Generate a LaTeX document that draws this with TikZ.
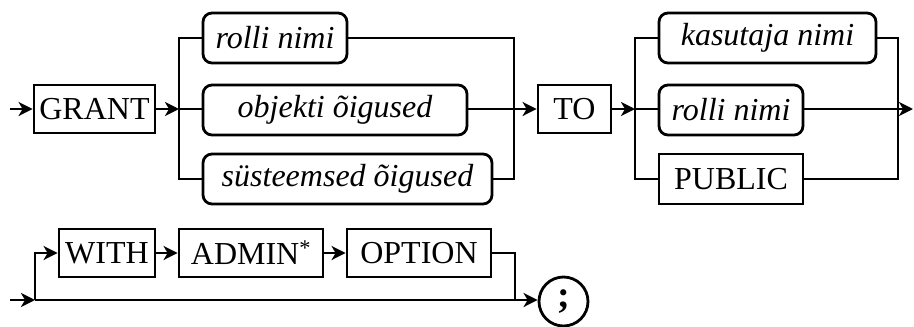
\documentclass[tikz,border=0pt]{standalone}
\usepackage{fontspec}
\setmainfont{Liberation Serif}
\usetikzlibrary{arrows.meta}
\begin{document}
\begin{tikzpicture}[x=1pt,y=-1pt,
  line width=2.8pt,
  kw/.style={draw, rectangle, inner sep=0pt, minimum height=48pt, font=\fontsize{32}{36}\selectfont},
  nt/.style={draw, rectangle, rounded corners=9pt, inner sep=0pt, minimum height=50pt, font=\fontsize{32}{36}\selectfont\itshape},
  term/.style={draw, circle, inner sep=0pt, minimum size=49pt, font=\fontsize{38}{40}\selectfont\bfseries},
  arr/.style={-{Stealth[length=14pt,width=14pt,inset=4pt]}},
  conn/.style={line join=miter}]
\useasboundingbox (0,0) rectangle (914,327);
% row 1 nodes
\node[kw, minimum width=121pt] (grant) at (94.5,109) {GRANT};
\node[nt, minimum width=144pt] (rolli1) at (275,38) {rolli nimi};
\node[nt, minimum width=264pt] (obj) at (335,110) {objekti õigused};
\node[nt, minimum width=289pt] (sys) at (347.5,179) {süsteemsed õigused};
\node[kw, minimum width=73pt] (to) at (574.5,109) {TO};
\node[nt, minimum width=217pt] (kas) at (767.5,38) {kasutaja nimi};
\node[nt, minimum width=144pt] (rolli2) at (731,110) {rolli nimi};
\node[kw, minimum width=144pt, minimum height=50pt] (pub) at (731,179) {PUBLIC};
% row 2 nodes
\node[kw, minimum width=96pt] (with) at (107,253) {WITH};
\node[kw, minimum width=144pt] (admin) at (251,253) {ADMIN\textsuperscript{*}};
\node[kw, minimum width=144pt] (option) at (419,253) {OPTION};
\node[term] (semi) at (563.5,301.5) {;};
% coordinates
\coordinate (s1) at (10,109);
\coordinate (b1) at (179,109);
\coordinate (m1) at (514,109);
\coordinate (b2) at (635,109);
\coordinate (m2) at (898,109);
\coordinate (e1) at (913,109);
\coordinate (s2) at (10,300);
\coordinate (b3) at (35,300);
\coordinate (m3) at (515,300);
% row 1 connectors
\draw[arr] (s1) -- (grant.west);
\draw[arr] (grant.east) -- (b1);
\draw[conn] (rolli1.west) -| (b1) |- (sys.west);
\draw (b1) -- (obj.west |- b1);
\draw[conn] (rolli1.east) -| (m1) |- (sys.east);
\draw (obj.east |- m1) -- (m1);
\draw[arr] (m1) -- (to.west);
\draw[arr] (to.east) -- (b2);
\draw[conn] (kas.west) -| (b2) |- (pub.west);
\draw (b2) -- (rolli2.west |- b2);
\draw[conn] (kas.east) -| (m2) |- (pub.east);
\draw (rolli2.east |- m2) -- (m2);
\draw[arr] (m2) -- (e1);
% row 2 connectors
\draw[arr] (s2) -- (b3);
\draw[arr, conn] (b3) |- (with.west);
\draw[arr] (with.east) -- (admin.west);
\draw[arr] (admin.east) -- (option.west);
\draw[conn] (option.east) -| (m3);
\draw (b3) -- (m3);
\draw[arr] (m3) -- (semi.west |- m3);
\end{tikzpicture}
\end{document}
